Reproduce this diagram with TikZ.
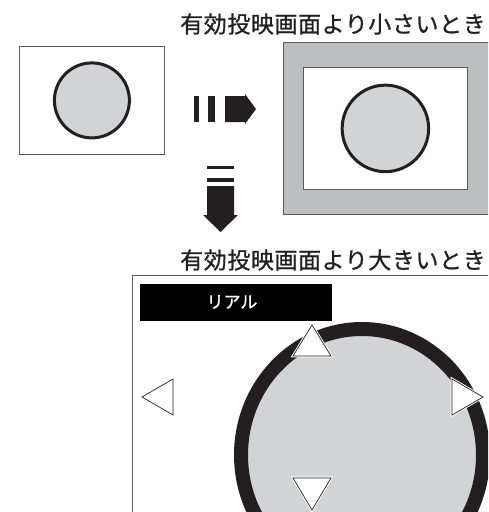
\documentclass[tikz,border=0pt]{standalone}
\usepackage{fontspec}
\newfontfamily\jp{Noto Sans CJK JP}[FakeBold=0.6]
\newfontfamily\jpwide{Noto Sans CJK JP}[LetterSpace=2.5,FakeBold=0.8]
\definecolor{ringc}{HTML}{231F20}
\definecolor{diskc}{HTML}{D1D3D4}
\definecolor{framec}{HTML}{BCBEC0}
\definecolor{edgec}{HTML}{58595B}
\begin{document}
\begin{tikzpicture}[x=1pt,y=-1pt,
  boxnode/.style={draw=edgec, line width=0.8pt, inner sep=0pt, anchor=north west},
  disknode/.style={circle, draw=ringc, line width=3pt, fill=diskc, inner sep=0pt},
  titletext/.style={text=ringc, inner sep=0pt, anchor=west, font=\jpwide\fontsize{23}{23}\selectfont},
  tri/.style={fill=white, draw=ringc, line width=0.7pt, line join=miter,
    preaction={draw=white, line width=2.6pt}},
  arrowfill/.style={fill=ringc}]
\clip (0,0) rectangle (488,512);
\fill[white] (0,0) rectangle (488,512);
% titles
\node[titletext] (titleA) at (180,24) {有効投映画面より小さいとき};
\node[titletext] (titleB) at (180,260) {有効投映画面より大きいとき};
% source picture
\node[boxnode, minimum width=145pt, minimum height=108pt] (src) at (19,46) {};
\node[disknode, minimum size=75pt] (srcdisk) at (src.center) {};
% smaller case
\node[boxnode, fill=framec, minimum width=220pt, minimum height=172pt] (outer) at (283,42) {};
\node[boxnode, fill=white, minimum width=164pt, minimum height=122pt] (inner) at (303,67) {};
\node[disknode, minimum size=86.5pt] (innerdisk) at (inner.center) {};
% right arrow
\fill[arrowfill] (194,96) rectangle (198.5,122);
\fill[arrowfill] (208,96) rectangle (215,122);
\fill[arrowfill] (225,96) -- (245,96) -- (245,94) -- (256,109) -- (245,124) -- (245,122) -- (225,122) -- cycle;
% down arrow
\fill[arrowfill] (207,165.5) rectangle (234,169);
\fill[arrowfill] (207,177.5) rectangle (234,181.5);
\fill[arrowfill] (207,186) -- (234,186) -- (234,215) -- (238,215) -- (220.5,232) -- (203,215) -- (207,215) -- cycle;
% larger case
\node[boxnode, minimum width=400pt, minimum height=300pt] (big) at (132,275) {};
\node[fill=black, inner sep=0pt, anchor=north west, minimum width=192pt, minimum height=37pt] (bar) at (140,284) {};
\node[text=white, inner sep=0pt, font=\jp\fontsize{17}{17}\selectfont] (bartext) at (232,302) {リアル};
\draw[ringc, line width=14pt, fill=diskc] (362,455) ellipse [x radius=121pt, y radius=126pt];
\draw[tri] (312,325) -- (331,356) -- (293,356) -- cycle;
\draw[tri] (293,478) -- (331,478) -- (312,510) -- cycle;
\draw[tri] (142,397) -- (173,379) -- (173,415) -- cycle;
\draw[tri] (452,379) -- (483,397) -- (452,415) -- cycle;
\end{tikzpicture}
\end{document}
